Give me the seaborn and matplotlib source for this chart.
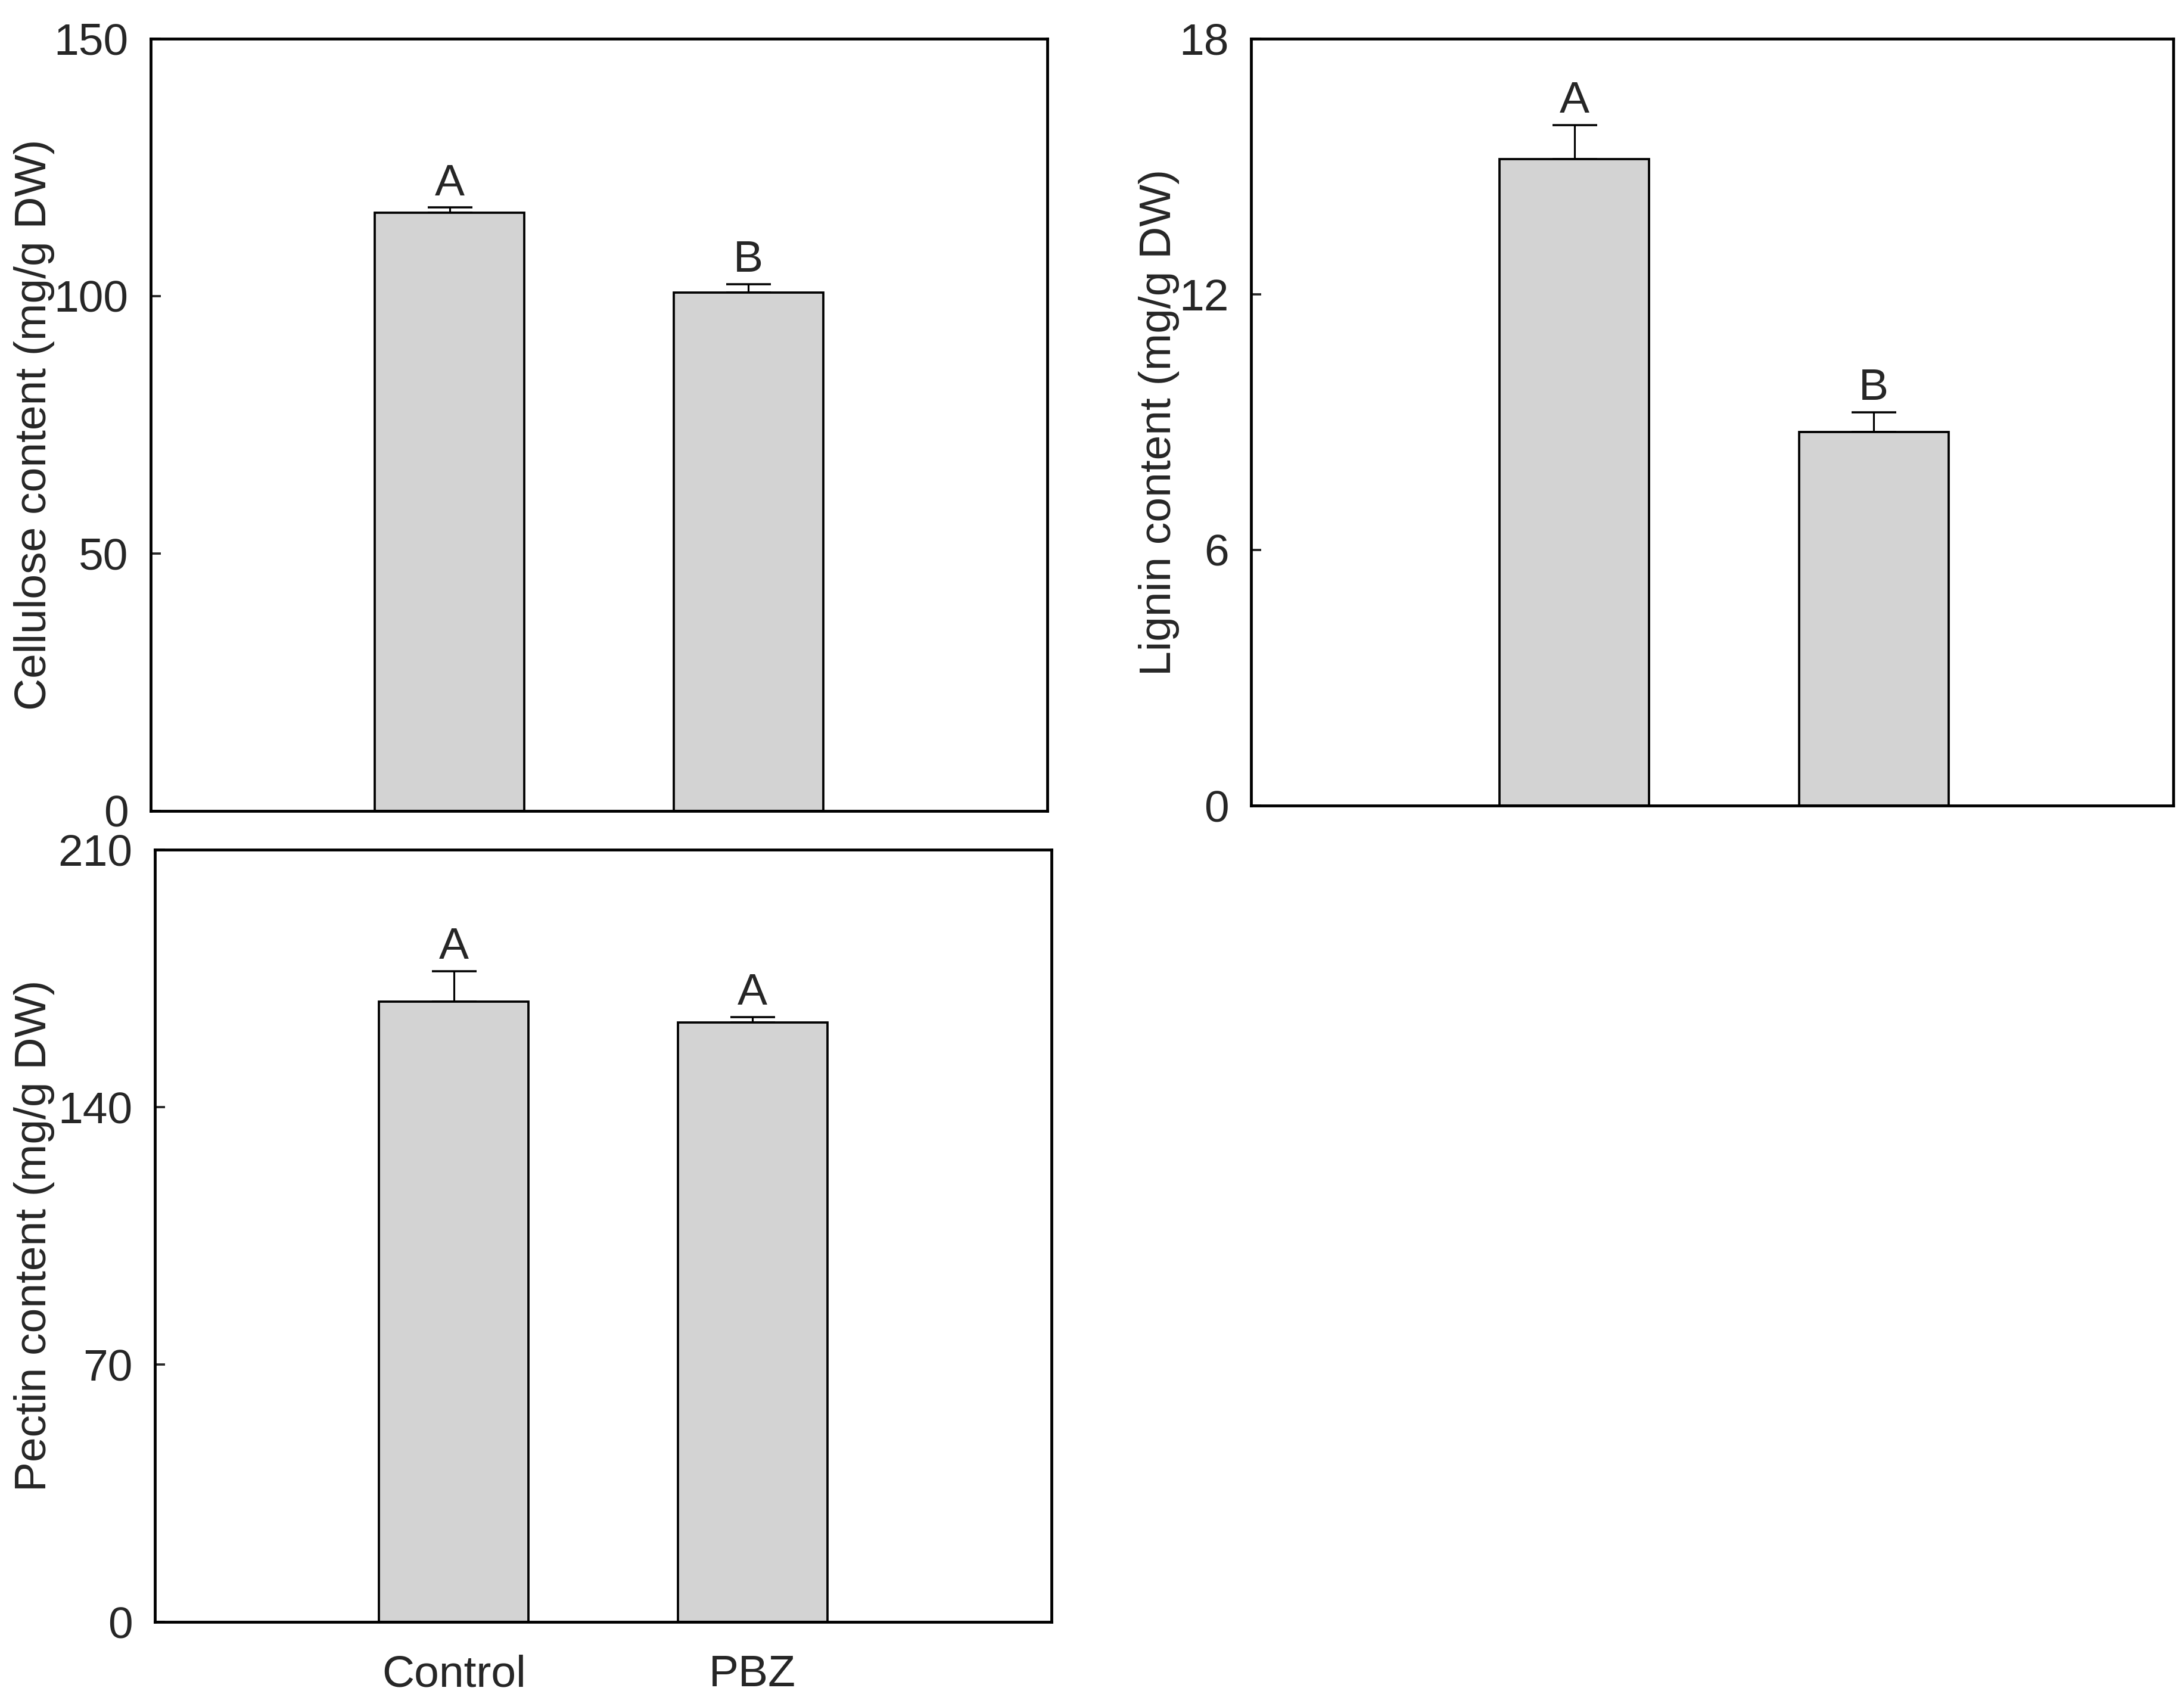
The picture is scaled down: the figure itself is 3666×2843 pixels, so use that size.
import matplotlib
matplotlib.use("Agg")
import matplotlib.pyplot as plt
import seaborn as sns
import pandas as pd
import numpy as np

# ---- data ----
treatments = ["Control", "PBZ"]

cellulose_mean = [116.2, 100.7]
cellulose_se = [1.0, 1.6]
cellulose_letters = ["A", "B"]

lignin_mean = [15.18, 8.77]
lignin_se = [0.79, 0.46]
lignin_letters = ["A", "B"]

pectin_mean = [168.7, 163.0]
pectin_se = [8.3, 1.5]
pectin_letters = ["A", "A"]

cellulose_ticks = [0, 50, 100, 150]
lignin_ticks = [0, 6, 12, 18]
pectin_ticks = [0, 70, 140, 210]

sns.set_theme(style="ticks")
plt.rcParams['font.family'] = ['Liberation Sans', 'DejaVu Sans']
FS = 18

W, H = 3666, 2843
fig = plt.figure(figsize=(W / 300, H / 300), dpi=300)


def box(l, r, t, b):
    return [l / W, 1 - b / H, (r - l) / W, (b - t) / H]


def panel(rect, means, ses, letters, ticks, ylabel, xlim, label_x, show_x):
    ax = fig.add_axes(rect)
    df = pd.DataFrame({"Treatment": treatments, "Value": means})
    sns.barplot(data=df, x="Treatment", y="Value", order=treatments,
                color="#d3d3d3", saturation=1, width=0.5, errorbar=None,
                edgecolor="black", linewidth=0.9, ax=ax, zorder=2)
    xs = np.arange(len(treatments))
    ax.errorbar(xs, means, yerr=[np.zeros(len(ses)), ses], fmt="none",
                ecolor="black", elinewidth=0.75, capsize=9, capthick=0.85,
                zorder=1)
    for x, m, s, lt in zip(xs, means, ses, letters):
        ax.annotate(lt, (x, m + s), xytext=(0, 5), textcoords="offset points",
                    ha="center", va="baseline", fontsize=FS)
    ax.set_ylim(ticks[0], ticks[-1])
    ax.set_yticks(ticks)
    ax.set_yticklabels([str(t) for t in ticks], fontsize=FS)
    ax.set_xlim(*xlim)
    ax.tick_params(axis="y", direction="in", length=4, width=0.9, pad=9)
    ax.tick_params(axis="x", length=0, pad=13)
    if show_x:
        ax.set_xticklabels(treatments, fontsize=FS)
    else:
        ax.set_xticklabels([])
    ax.set_xlabel("")
    ax.set_ylabel(ylabel, fontsize=FS, ha="center", va="center")
    ax.yaxis.set_label_coords(label_x, 0.5)
    for sp in ax.spines.values():
        sp.set_visible(True)
        sp.set_linewidth(1.15)
        sp.set_color("black")
    ax.set_facecolor("white")
    return ax


# top-left: cellulose
l, r = 253, 1758
panel(box(l, r, 65, 1361), cellulose_mean, cellulose_se, cellulose_letters,
      cellulose_ticks, "Cellulose content (mg/g DW)", (-1.0, 2.0),
      (58 - l) / (r - l), False)

# top-right: lignin
l, r = 2100, 3648
panel(box(l, r, 65, 1352), lignin_mean, lignin_se, lignin_letters,
      lignin_ticks, "Lignin content (mg/g DW)", (-1.08, 2.0),
      (1945 - l) / (r - l), False)

# bottom-left: pectin
l, r = 260, 1765
panel(box(l, r, 1426, 2722), pectin_mean, pectin_se, pectin_letters,
      pectin_ticks, "Pectin content (mg/g DW)", (-1.0, 2.0),
      (58 - l) / (r - l), True)

fig.savefig("out.png", dpi=300, facecolor="white")
